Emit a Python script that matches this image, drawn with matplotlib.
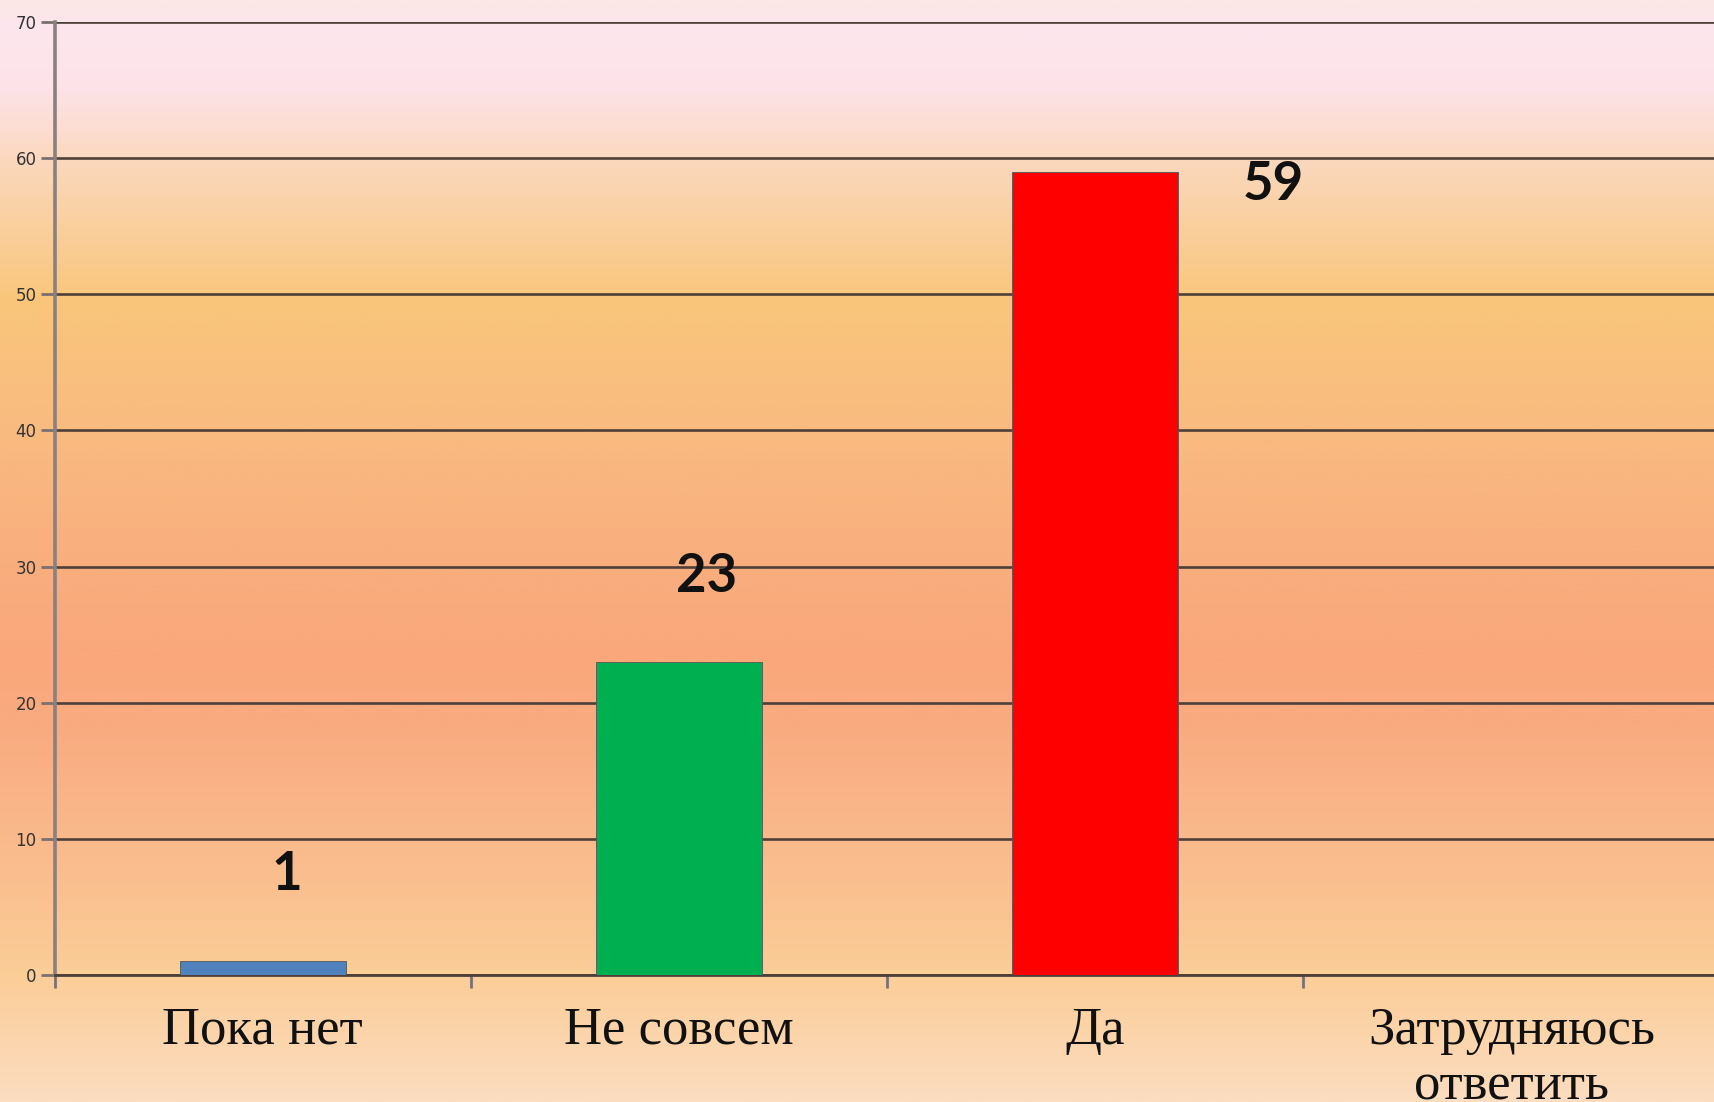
import numpy as np
import matplotlib
matplotlib.use("Agg")
import matplotlib.pyplot as plt
from matplotlib.colors import LinearSegmentedColormap

# data
categories = ["Пока нет", "Не совсем", "Да", "Затрудняюсь\nответить"]
values = [1, 23, 59, 0]
bar_colors = ["#4f81bd", "#00b050", "#ff0000", "#ffffff"]
yticks = [0, 10, 20, 30, 40, 50, 60, 70]

# label offsets in pixels (dx, dy) from the bar top centre
label_offsets = [(24, 87), (28, 85), (178, -13), (0, 0)]

fig = plt.figure(figsize=(17.14, 11.02), dpi=100)

# background gradient over the whole picture
stops = [
    (0.00, "#fce8e6"),
    (0.02, "#fde6ee"),
    (0.08, "#fde3e8"),
    (0.145, "#fbd8bd"),
    (0.27, "#f9c67b"),
    (0.39, "#f9bb80"),
    (0.51, "#f9ae7e"),
    (0.60, "#f9a77b"),
    (0.66, "#f9ab80"),
    (0.76, "#fab98b"),
    (0.885, "#fbcd97"),
    (1.00, "#fcddc0"),
]
cmap = LinearSegmentedColormap.from_list("bg", stops)
bg = fig.add_axes([0, 0, 1, 1], zorder=0)
bg.imshow(np.linspace(0, 1, 512).reshape(-1, 1), aspect="auto", cmap=cmap,
          extent=[0, 1, 0, 1], origin="upper")
bg.axis("off")

ax = fig.add_axes([0.0319, 0.1152, 0.9713, 0.8648], zorder=1)
ax.patch.set_alpha(0)

x = np.arange(len(categories))
for i in range(len(categories)):
    if values[i] > 0:
        ax.bar(x[i], values[i], width=0.4, color=bar_colors[i],
               edgecolor="#555555", linewidth=0.6, zorder=3)

for i, v in enumerate(values):
    if v > 0:
        dx, dy = label_offsets[i]
        ax.annotate(str(v), (x[i], v), xytext=(dx, dy), textcoords="offset pixels",
                    ha="center", va="center", fontsize=38, fontweight="bold",
                    family="Lato", color="#111111", zorder=5)

ax.set_xlim(-0.5, len(categories) - 0.5)
ax.set_ylim(0, 70)
ax.set_yticks(yticks)
ax.set_yticklabels([str(t) for t in yticks], fontsize=12, color="#333333")
ax.yaxis.grid(True, color="#4e4038", linewidth=1.9, zorder=1)
ax.set_axisbelow(True)

# category boundaries as ticks, labels at centres
ax.set_xticks(np.arange(-0.5, len(categories), 1.0))
ax.set_xticklabels([])
ax.set_xticks(x, minor=True)
ax.set_xticklabels(categories, minor=True, fontsize=38, family="Liberation Serif",
                   linespacing=1.2, va="top", color="#111111")
ax.tick_params(axis="x", which="minor", length=0, pad=23)
ax.tick_params(axis="x", which="major", length=9, width=2, color="#7a7070", direction="out")
ax.tick_params(axis="y", length=10, width=2, color="#7a7070", pad=3)

for s in ["top", "right"]:
    ax.spines[s].set_visible(False)
ax.spines["left"].set_color("#8a8080")
ax.spines["left"].set_linewidth(2.6)
ax.spines["bottom"].set_color("#4e4038")
ax.spines["bottom"].set_linewidth(2.0)

fig.savefig("out.png", dpi=100)
